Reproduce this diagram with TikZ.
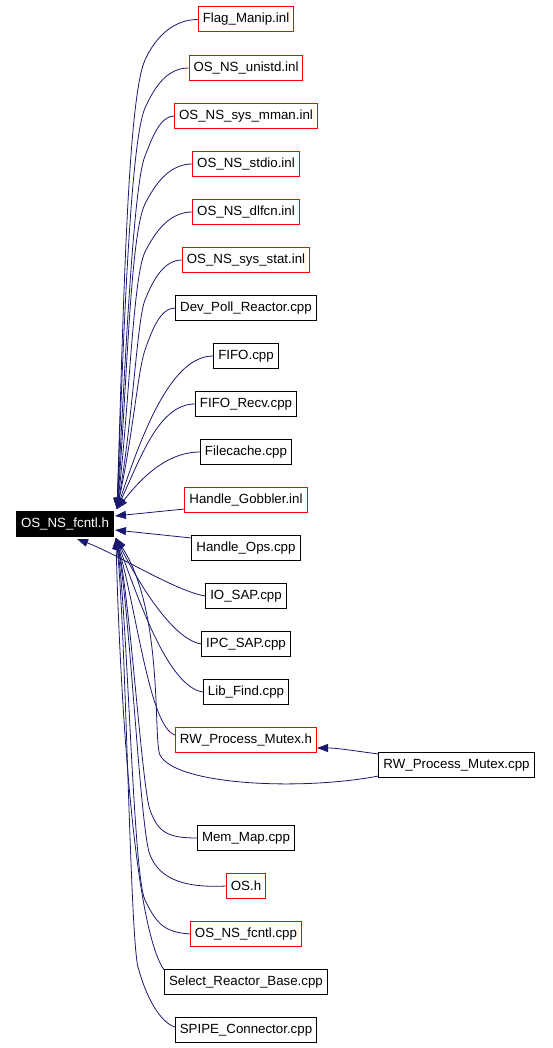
\documentclass[tikz,border=0pt]{standalone}
\usepackage{fontspec}
\setmainfont{Liberation Sans}
\usetikzlibrary{arrows.meta}
\definecolor{edgeblue}{HTML}{191970}

\tikzset{
  filebox/.style={draw=black, line width=1pt, fill=white, inner xsep=4.5pt, inner ysep=0pt,
    minimum height=25pt, font=\fontsize{13.3}{16}\selectfont},
  inlbox/.style={filebox, draw=red},
  rootbox/.style={filebox, fill=black, text=white},
  dep/.style={draw=edgeblue, line width=0.8pt, -{Triangle[length=11pt,width=8pt]}}
}

\begin{document}
\begin{tikzpicture}[x=1pt,y=-1pt]

        \pgfmathsetmacro{\colx}{246};

        \useasboundingbox (0,0) rectangle (552,1048);

        \node (root) at (65,524) [rootbox] {OS\_NS\_fcntl.h};

        \node (flag)      at (\colx,19.5) [inlbox]  {Flag\_Manip.inl};
        \node (unistd)    at (\colx,68)   [inlbox]  {OS\_NS\_unistd.inl};
        \node (mman)      at (\colx,116)  [inlbox]  {OS\_NS\_sys\_mman.inl};
        \node (stdio)     at (\colx,164)  [inlbox]  {OS\_NS\_stdio.inl};
        \node (dlfcn)     at (\colx,212)  [inlbox]  {OS\_NS\_dlfcn.inl};
        \node (stat)      at (\colx,260)  [inlbox]  {OS\_NS\_sys\_stat.inl};
        \node (devpoll)   at (\colx,308)  [filebox] {Dev\_Poll\_Reactor.cpp};
        \node (fifo)      at (\colx,356)  [filebox] {FIFO.cpp};
        \node (fiforecv)  at (\colx,404)  [filebox] {FIFO\_Recv.cpp};
        \node (filecache) at (\colx,452)  [filebox] {Filecache.cpp};
        \node (gobbler)   at (\colx,500)  [inlbox]  {Handle\_Gobbler.inl};
        \node (handleops) at (\colx,548)  [filebox] {Handle\_Ops.cpp};
        \node (iosap)     at (\colx,596)  [filebox] {IO\_SAP.cpp};
        \node (ipcsap)    at (\colx,644)  [filebox] {IPC\_SAP.cpp};
        \node (libfind)   at (\colx,692)  [filebox] {Lib\_Find.cpp};
        \node (rwh)       at (\colx,740)  [inlbox]  {RW\_Process\_Mutex.h};
        \node (rwcpp)     at (456.5,765)  [filebox] {RW\_Process\_Mutex.cpp};
        \node (memmap)    at (\colx,838)  [filebox] {Mem\_Map.cpp};
        \node (osh)       at (\colx,886)  [inlbox]  {OS.h};
        \node (fcntlcpp)  at (\colx,934)  [inlbox]  {OS\_NS\_fcntl.cpp};
        \node (select)    at (\colx,982)  [filebox] {Select\_Reactor\_Base.cpp};
        \node (spipe)     at (\colx,1030) [filebox] {SPIPE\_Connector.cpp};

        % files above the root
        \draw [dep] (flag.west) .. controls +(-25,0) and +(10,-22) .. (145,60)
              .. controls +(-18,40) and +(6,-180) .. ([shift={(3,-2)}]root.north east);
        \draw [dep] (unistd.west) .. controls +(-22,0) and +(9,-20) .. (145,108)
              .. controls +(-15,34) and +(6,-160) .. ([shift={(3,-2)}]root.north east);
        \draw [dep] (mman.west) .. controls +(-14,0) and +(7,-18) .. (145,156)
              .. controls +(-12,30) and +(8,-140) .. ([shift={(3,-2)}]root.north east);
        \draw [dep] (stdio.west) .. controls +(-23,0) and +(10,-20) .. (145,204)
              .. controls +(-15,30) and +(10,-120) .. ([shift={(3,-2)}]root.north east);
        \draw [dep] (dlfcn.west) .. controls +(-23,0) and +(10,-20) .. (145,252)
              .. controls +(-12,24) and +(12,-100) .. ([shift={(3,-2)}]root.north east);
        \draw [dep] (stat.west) .. controls +(-18,0) and +(8,-20) .. (145,300)
              .. controls +(-8,20) and +(16,-90) .. ([shift={(3,-2)}]root.north east);
        \draw [dep] (devpoll.west) .. controls +(-15,0) and +(7,-20) .. (145,350)
              .. controls +(-7,20) and +(16,-75) .. ([shift={(3,-2)}]root.north east);
        \draw [dep] (fifo.west) .. controls +(-40,0) and +(28,-85) .. ([shift={(3,-2)}]root.north east);
        \draw [dep] (fiforecv.west) .. controls +(-35,0) and +(25,-55) .. ([shift={(3,-2)}]root.north east);
        \draw [dep] (filecache.west) .. controls +(-35,0) and +(22,-28) .. ([shift={(3,-2)}]root.north east);

        % files level with the root
        \draw [dep] ([shift={(0,-4)}]gobbler.south west) -- ([shift={(1,-8)}]root.east);
        \draw [dep] ([shift={(0,3)}]handleops.north west) -- ([shift={(1,6)}]root.east);
        \draw [dep] (iosap.west) .. controls +(-30,-5) and +(40,15) .. ([shift={(12,2)}]root.south);

        % files below the root
        \draw [dep] (ipcsap.west) .. controls +(-30,-5) and +(20,40) .. ([shift={(2,1)}]root.south east);
        \draw [dep] (libfind.west) .. controls +(-35,-5) and +(22,60) .. ([shift={(2,1)}]root.south east);
        \draw [dep] ([shift={(0,-5)}]rwh.west) .. controls +(-25,-8) and +(22,80) .. ([shift={(2,1)}]root.south east);
        \draw [dep] ([shift={(0,-2)}]rwcpp.south west) .. controls +(-78,15) and +(15,30) .. (160,755)
              .. controls +(-7,-14) and +(48,73) .. ([shift={(2,1)}]root.south east);
        \draw [dep] (memmap.west) .. controls +(-30,0) and +(8,22) .. (150,810)
              .. controls +(-8,-22) and +(14,60) .. ([shift={(2,1)}]root.south east);
        \draw [dep] (osh.west) .. controls +(-40,2) and +(10,25) .. (150,855)
              .. controls +(-10,-25) and +(14,70) .. ([shift={(2,1)}]root.south east);
        \draw [dep] (fcntlcpp.west) .. controls +(-25,-2) and +(12,25) .. (145,900)
              .. controls +(-12,-25) and +(12,80) .. ([shift={(2,1)}]root.south east);
        \draw [dep] ([shift={(0,1)}]select.north west) .. controls +(-35,-50) and +(2,90) .. ([shift={(2,1)}]root.south east);
        \draw [dep] ([shift={(0,-3)}]spipe.west) .. controls +(-15,-5) and +(8,30) .. (138,967)
              .. controls +(-8,-30) and +(10,90) .. ([shift={(2,1)}]root.south east);

        \draw [dep] ([shift={(0,2)}]rwcpp.north west) .. controls +(-30,-4) and +(20,0) .. ([shift={(0,8)}]rwh.east);

\end{tikzpicture}
\end{document}
